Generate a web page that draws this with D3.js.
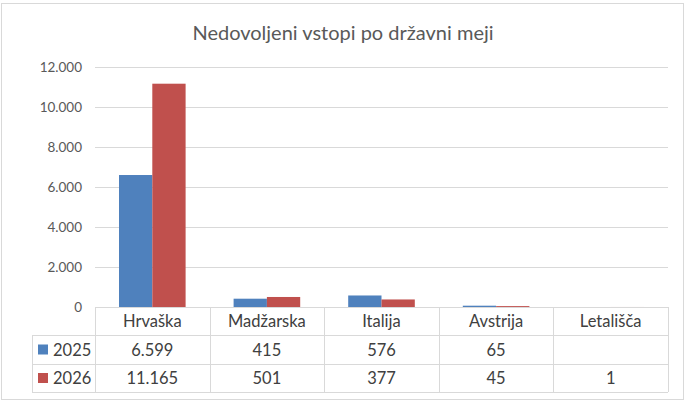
<!DOCTYPE html>
<html>
<head>
<meta charset="utf-8">
<script src="https://cdn.jsdelivr.net/npm/d3@7"></script>
<style>
  body { margin: 0; background: #fff; }
  svg text { font-family: Lato, "Open Sans", sans-serif; }
</style>
</head>
<body>
<div id="chart"></div>
<script>
const categories = ["Hrvaška", "Madžarska", "Italija", "Avstrija", "Letališča"];
const seriesNames = ["2025", "2026"];
const values2025 = [6599, 415, 576, 65, null];
const values2026 = [11165, 501, 377, 45, 1];
const yTicks = [0, 2000, 4000, 6000, 8000, 10000, 12000];
const colors = ["#4f81bd", "#c0504d"];

function init() {
    const W = 689, H = 406;
    const svg = d3.select("#chart")
        .append("svg")
        .attr("width", W)
        .attr("height", H);

    // outer frame
    svg.append("rect")
        .attr("x", 1.5).attr("y", 3.5)
        .attr("width", 682).attr("height", 396)
        .attr("fill", "#fff")
        .attr("stroke", "#d9d9d9");

    svg.append("text")
        .attr("x", 343).attr("y", 40)
        .attr("text-anchor", "middle")
        .attr("font-size", 20)
        .attr("fill", "#595959")
        .text("Nedovoljeni vstopi po državni meji");

    const locale = d3.formatLocale({ decimal: ",", thousands: ".", grouping: [3], currency: ["", "€"] });
    const fmt = locale.format(",d");

    const x = d3.scaleBand().domain(categories).range([95, 668]);
    const xs = d3.scaleBand().domain(seriesNames).range([24, x.bandwidth() - 24]);
    const y = d3.scaleLinear().domain([0, 12000]).range([307, 67]);

    // gridlines + y labels
    const yAxis = svg.append("g")
        .attr("transform", "translate(95,0)")
        .call(d3.axisLeft(y).tickValues(yTicks).tickFormat(fmt).tickSizeInner(-573).tickSizeOuter(0).tickPadding(13));
    yAxis.select(".domain").remove();
    yAxis.selectAll(".tick line").attr("stroke", "#d9d9d9");
    yAxis.selectAll(".tick text")
        .attr("fill", "#595959")
        .attr("font-size", 13.5)
        .attr("font-family", "Lato, sans-serif");

    const series = [values2025, values2026];
    seriesNames.forEach((s, k) => {
        svg.append("g").selectAll("rect")
            .data(categories.map((c, i) => ({ c: c, v: series[k][i] })).filter(d => d.v != null))
            .enter()
            .append("rect")
            .attr("x", d => x(d.c) + xs(s))
            .attr("y", d => y(d.v))
            .attr("width", xs.bandwidth())
            .attr("height", d => y(0) - y(d.v))
            .attr("fill", colors[k]);
    });

    // data table
    const rowY = [307, 335, 364, 392];
    const left = 32, right = 668;
    const tg = svg.append("g");
    const line = (x1, y1, x2, y2) => tg.append("line")
        .attr("x1", x1).attr("y1", y1).attr("x2", x2).attr("y2", y2)
        .attr("stroke", "#d9d9d9");
    line(95, rowY[0] + 0.5, right, rowY[0] + 0.5);
    line(left, rowY[1] + 0.5, right, rowY[1] + 0.5);
    line(left, rowY[2] + 0.5, right, rowY[2] + 0.5);
    line(left, rowY[3] + 0.5, right, rowY[3] + 0.5);
    line(left + 0.5, rowY[1], left + 0.5, rowY[3]);
    categories.forEach(c => line(Math.round(x(c)) + 0.5, rowY[0], Math.round(x(c)) + 0.5, rowY[3]));
    line(right + 0.5, rowY[0], right + 0.5, rowY[3]);

    tg.selectAll("text.cat")
        .data(categories)
        .enter()
        .append("text")
        .attr("x", d => x(d) + x.bandwidth() / 2)
        .attr("y", (rowY[0] + rowY[1]) / 2 + 6)
        .attr("text-anchor", "middle")
        .attr("font-size", 16.5)
        .attr("fill", "#404040")
        .text(d => d);

    seriesNames.forEach((s, k) => {
        const cy = (rowY[k + 1] + rowY[k + 2]) / 2;
        tg.append("rect")
            .attr("x", 38).attr("y", cy - 5)
            .attr("width", 10).attr("height", 10)
            .attr("fill", colors[k]);
        tg.append("text")
            .attr("x", 53).attr("y", cy + 6)
            .attr("font-size", 16.5)
            .attr("fill", "#404040")
            .text(s);
        tg.selectAll("text.v" + k)
            .data(categories.map((c, i) => ({ c: c, v: series[k][i] })))
            .enter()
            .append("text")
            .attr("x", d => x(d.c) + x.bandwidth() / 2)
            .attr("y", cy + 6)
            .attr("text-anchor", "middle")
            .attr("font-size", 16.5)
            .attr("fill", "#404040")
            .text(d => d.v == null ? "" : fmt(d.v));
    });
}

window.onload = init;
</script>
</body>
</html>
